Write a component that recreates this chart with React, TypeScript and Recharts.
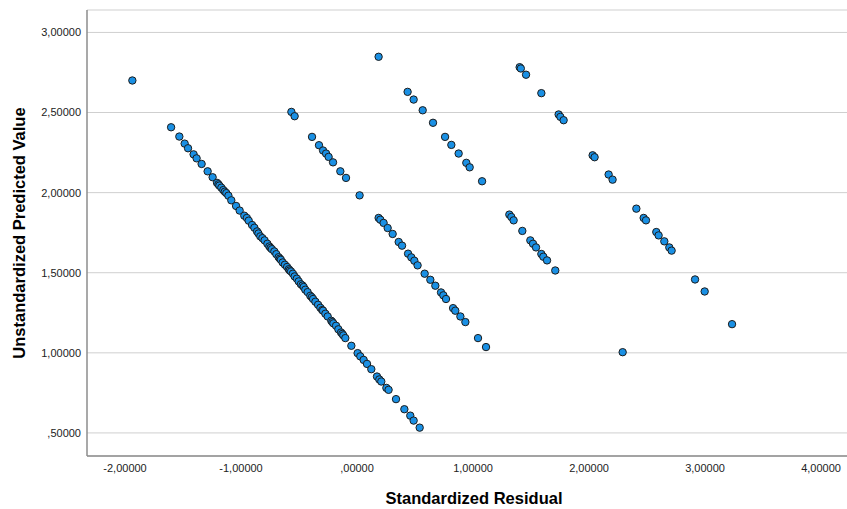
import { ScatterChart, Scatter, XAxis, YAxis, CartesianGrid } from 'recharts';

// values (residual, predicted)
const lonePoint: [number, number][] = [[-1.937, 2.7]];

const bandOne: [number, number][] = [
  [-1.603, 2.408], [-1.532, 2.35], [-1.486, 2.306], [-1.457, 2.277], [-1.409, 2.239],
  [-1.383, 2.214], [-1.34, 2.179], [-1.288, 2.133], [-1.245, 2.096], [-1.207, 2.061],
  [-1.195, 2.052], [-1.187, 2.044], [-1.17, 2.031], [-1.153, 2.016], [-1.14, 2.006],
  [-1.127, 1.997], [-1.109, 1.981], [-1.084, 1.952], [-1.043, 1.917], [-1.012, 1.888],
  [-0.972, 1.856], [-0.95, 1.842], [-0.934, 1.825], [-0.905, 1.798], [-0.885, 1.781],
  [-0.862, 1.758], [-0.85, 1.745], [-0.834, 1.727], [-0.816, 1.716], [-0.797, 1.702],
  [-0.773, 1.681], [-0.756, 1.664], [-0.745, 1.655], [-0.734, 1.647], [-0.713, 1.633],
  [-0.696, 1.616], [-0.676, 1.597], [-0.665, 1.588], [-0.657, 1.581], [-0.641, 1.564],
  [-0.622, 1.55], [-0.603, 1.536], [-0.588, 1.522], [-0.58, 1.514], [-0.569, 1.508],
  [-0.553, 1.494], [-0.538, 1.477], [-0.519, 1.463], [-0.503, 1.446], [-0.484, 1.428],
  [-0.47, 1.42], [-0.46, 1.411], [-0.446, 1.394], [-0.426, 1.379], [-0.403, 1.356],
  [-0.39, 1.347], [-0.379, 1.336], [-0.359, 1.319], [-0.336, 1.3], [-0.316, 1.281],
  [-0.3, 1.267], [-0.293, 1.263], [-0.273, 1.244], [-0.253, 1.227], [-0.222, 1.2],
  [-0.213, 1.192], [-0.204, 1.184], [-0.181, 1.169], [-0.161, 1.147], [-0.138, 1.127],
  [-0.127, 1.118], [-0.118, 1.109], [-0.101, 1.092], [-0.049, 1.044], [0.005, 0.998],
  [0.028, 0.978], [0.057, 0.956], [0.086, 0.931], [0.123, 0.898], [0.172, 0.852],
  [0.192, 0.834], [0.209, 0.821], [0.253, 0.781], [0.272, 0.769], [0.336, 0.711],
  [0.408, 0.648], [0.459, 0.608], [0.488, 0.577], [0.54, 0.533],
];

const bandTwo: [number, number][] = [
  [-0.566, 2.504], [-0.538, 2.477], [-0.388, 2.348], [-0.328, 2.296], [-0.293, 2.263],
  [-0.267, 2.244], [-0.245, 2.223], [-0.207, 2.189], [-0.144, 2.133], [-0.095, 2.092],
  [0.022, 1.983], [0.186, 1.842], [0.201, 1.831], [0.229, 1.811], [0.264, 1.779],
  [0.307, 1.742], [0.359, 1.692], [0.388, 1.669], [0.44, 1.619], [0.468, 1.596],
  [0.494, 1.575], [0.522, 1.546], [0.583, 1.494], [0.632, 1.456], [0.675, 1.419],
  [0.724, 1.377], [0.744, 1.359], [0.767, 1.336], [0.828, 1.279], [0.847, 1.263],
  [0.891, 1.227], [0.934, 1.192], [1.043, 1.092], [1.112, 1.036],
];

const bandThree: [number, number][] = [
  [0.186, 2.848], [0.436, 2.629], [0.488, 2.581], [0.566, 2.514], [0.655, 2.436],
  [0.759, 2.348], [0.813, 2.298], [0.876, 2.244], [0.942, 2.186], [0.971, 2.158],
  [1.078, 2.071], [1.313, 1.863], [1.33, 1.848], [1.35, 1.827], [1.425, 1.761],
  [1.494, 1.702], [1.517, 1.681], [1.543, 1.658], [1.589, 1.617], [1.606, 1.6],
  [1.638, 1.577], [1.709, 1.514], [2.29, 1.004],
];

const bandFour: [number, number][] = [
  [1.402, 2.783], [1.412, 2.775], [1.457, 2.736], [1.589, 2.621], [1.738, 2.488],
  [1.753, 2.473], [1.781, 2.452], [2.031, 2.233], [2.048, 2.221], [2.169, 2.113],
  [2.203, 2.081], [2.408, 1.9], [2.471, 1.842], [2.491, 1.827], [2.58, 1.754],
  [2.6, 1.733], [2.649, 1.696], [2.692, 1.658], [2.712, 1.638], [2.914, 1.458],
  [2.997, 1.383], [3.233, 1.179],
];

const xTicks = [-2, -1, 0, 1, 2, 3, 4];
const yTicks = [0.5, 1, 1.5, 2, 2.5, 3];

const toRows = (pts: [number, number][]) => pts.map(([x, y]) => ({ x, y }));

// SPSS style: comma decimal, no leading zero
const fmt = (v: number) => {
  let s = Math.abs(v).toFixed(5).replace('.', ',');
  if (s.startsWith('0')) s = s.slice(1);
  return (v < 0 ? '-' : '') + s;
};

const dot = (p: any) => (
  <circle cx={p.cx} cy={p.cy} r={3.7} fill="#1a90e4" stroke="#1c1c1c" strokeWidth={1} />
);

const series = [lonePoint, bandOne, bandTwo, bandThree, bandFour];

export default function App() {
  return (
    <div style={{ position: 'absolute', left: 0, top: 0, fontFamily: '"Liberation Sans", Arial, sans-serif' }}>
      <ScatterChart width={847} height={509} margin={{ top: 10, right: 0, bottom: 0, left: 0 }}>
        <CartesianGrid vertical={false} stroke="#cfcfcf" strokeWidth={1} />
        <XAxis
          type="number"
          dataKey="x"
          domain={[-2.328, 4.224]}
          ticks={xTicks}
          allowDataOverflow
          height={53}
          tickSize={0}
          tickMargin={8}
          tickFormatter={fmt}
          tick={{ fontSize: 11, fill: '#222' }}
          axisLine={{ stroke: '#8c8c8c', strokeWidth: 1.5 }}
          label={(props: any) => {
            const vb = props.viewBox;
            return (
              <text x={474} y={vb.y + 48} textAnchor="middle" fontSize={16.5} fontWeight="bold" fill="#000">
                Standardized Residual
              </text>
            );
          }}
        />
        <YAxis
          type="number"
          dataKey="y"
          domain={[0.356, 3.14]}
          ticks={yTicks}
          allowDataOverflow
          width={87}
          tickSize={0}
          tickMargin={6}
          tickFormatter={fmt}
          tick={{ fontSize: 11, fill: '#222' }}
          axisLine={{ stroke: '#8c8c8c', strokeWidth: 1.5 }}
          label={(props: any) => {
            const vb = props.viewBox;
            const cy = vb.y + vb.height / 2;
            return (
              <text
                x={25}
                y={cy}
                textAnchor="middle"
                fontSize={16.5}
                fontWeight="bold"
                fill="#000"
                transform={`rotate(-90, 25, ${cy})`}
              >
                Unstandardized Predicted Value
              </text>
            );
          }}
        />
        {series.map((pts, i) => (
          <Scatter key={i} data={toRows(pts)} shape={dot} isAnimationActive={false} />
        ))}
      </ScatterChart>
    </div>
  );
}
